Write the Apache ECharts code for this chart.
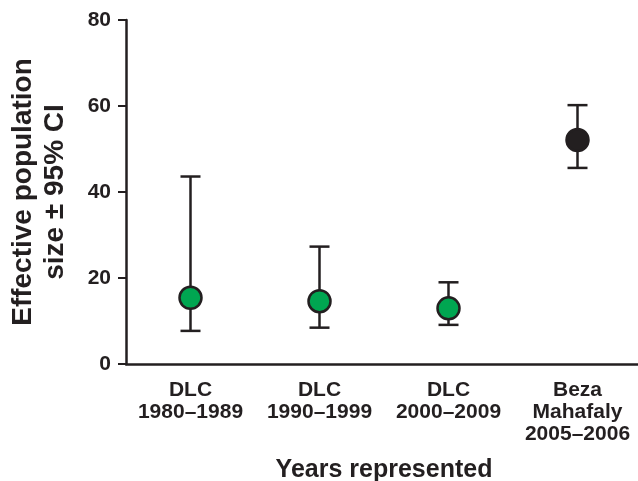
<!DOCTYPE html>
<html><head><meta charset="utf-8">
<script src="https://cdn.jsdelivr.net/npm/echarts@6/dist/echarts.min.js"></script>
<style>html,body{margin:0;padding:0;background:#fff}#c{width:638px;height:481px}</style>
</head><body><div id="c"></div>
<script>
var categories = ['DLC\n1980–1989', 'DLC\n1990–1999', 'DLC\n2000–2009', 'Beza\nMahafaly\n2005–2006'];
var estimates = [15.4, 14.6, 12.95, 52.1];
var lowerCI = [7.7, 8.45, 9.1, 45.6];
var upperCI = [43.6, 27.3, 19.0, 60.2];
var pointColors = ['#00a651', '#00a651', '#00a651', '#231f20'];
var yTicks = [0, 20, 40, 60, 80];

var ink = '#231f20';
var font = 'Liberation Sans, Arial, sans-serif';
var chart = echarts.init(document.getElementById('c'), null, {renderer: 'canvas'});
var errData = categories.map(function (c, i) { return [i, lowerCI[i], upperCI[i]]; });
var ptData = categories.map(function (c, i) { return {value: [i, estimates[i]], itemStyle: {color: pointColors[i]}}; });
chart.setOption({
  animation: false,
  grid: {left: 126, right: -4, top: 20, bottom: 117, containLabel: false, outerBoundsMode: 'none'},
  xAxis: {
    type: 'category', data: categories,
    axisLine: {lineStyle: {color: ink, width: 2.5}},
    axisTick: {alignWithLabel: true, length: 7, lineStyle: {color: ink, width: 2}},
    axisLabel: {color: ink, fontSize: 21, fontWeight: 'bold', fontFamily: font, lineHeight: 22, margin: 15, interval: 0},
    name: 'Years represented', nameLocation: 'middle', nameGap: 94, nameMoveOverlap: false,
    nameTextStyle: {color: ink, fontSize: 25, fontWeight: 'bold', fontFamily: font}
  },
  yAxis: {
    type: 'value', min: yTicks[0], max: yTicks[yTicks.length - 1], interval: 20,
    splitLine: {show: false},
    axisLine: {show: true, lineStyle: {color: ink, width: 2.5}},
    axisTick: {show: true, length: 8, lineStyle: {color: ink, width: 2}},
    axisLabel: {color: ink, fontSize: 21, fontWeight: 'bold', fontFamily: font, margin: 15},
    name: 'Effective population\nsize ± 95% CI', nameLocation: 'middle', nameGap: 55, nameMoveOverlap: false,
    nameTextStyle: {color: ink, fontSize: 28, fontWeight: 'bold', fontFamily: font, lineHeight: 32}
  },
  series: [
    {
      type: 'custom', data: errData, z: 2,
      renderItem: function (params, api) {
        var x = api.value(0);
        var lo = api.coord([x, api.value(1)]);
        var hi = api.coord([x, api.value(2)]);
        var hw = 10;
        var st = {stroke: ink, lineWidth: 2.5, fill: null};
        return {type: 'group', children: [
          {type: 'line', shape: {x1: lo[0], y1: lo[1], x2: hi[0], y2: hi[1]}, style: st},
          {type: 'line', shape: {x1: lo[0] - hw, y1: lo[1], x2: lo[0] + hw, y2: lo[1]}, style: st},
          {type: 'line', shape: {x1: hi[0] - hw, y1: hi[1], x2: hi[0] + hw, y2: hi[1]}, style: st}
        ]};
      }
    },
    {
      type: 'scatter', data: ptData, symbolSize: 22, z: 3,
      itemStyle: {borderColor: ink, borderWidth: 2.5, opacity: 1}
    }
  ]
});
</script></body></html>
